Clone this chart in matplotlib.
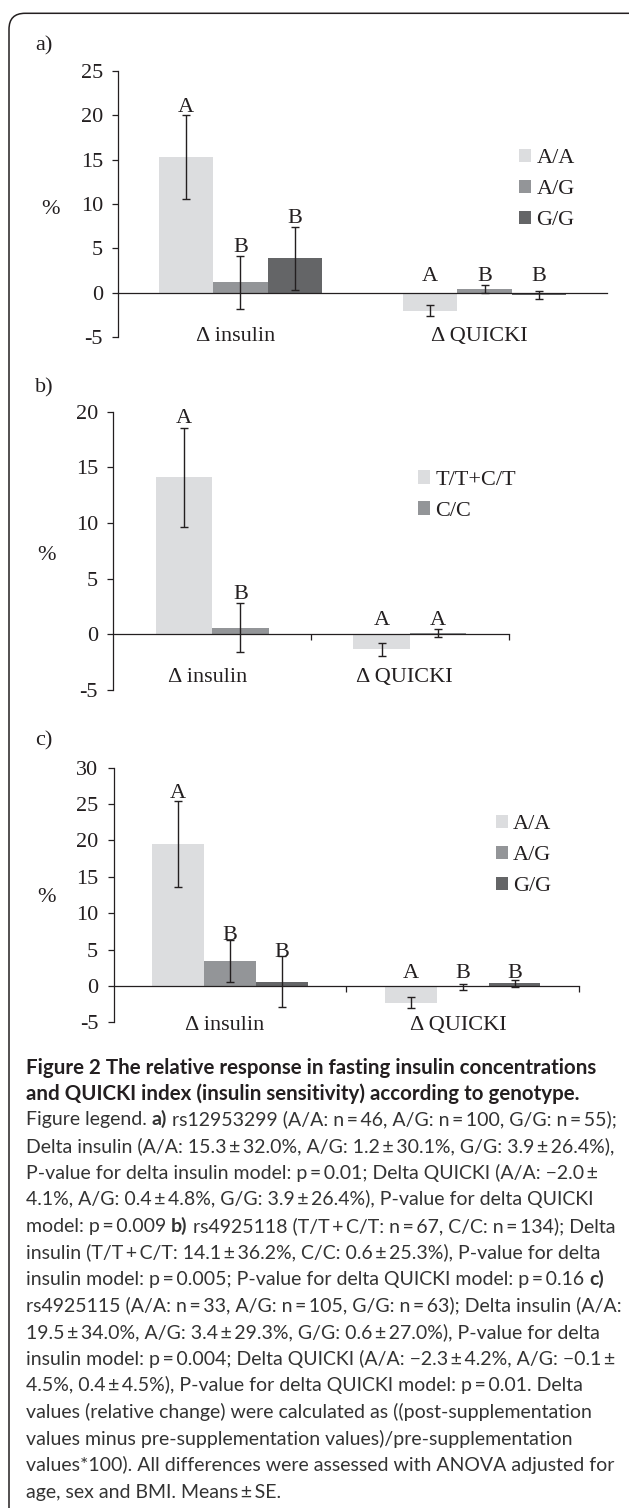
import numpy as np
import matplotlib
matplotlib.use("Agg")
import matplotlib.pyplot as plt
from matplotlib.patches import FancyBboxPatch
from matplotlib import transforms

W, H = 629, 1508

# ---- data ----
categories = ["\u0394 insulin", "\u0394 QUICKI"]

a_series = ["A/A", "A/G", "G/G"]
a_values = [[15.3, -2.0], [1.2, 0.4], [3.9, -0.25]]
a_errors = [[4.7, 0.6], [3.0, 0.43], [3.55, 0.47]]
a_letters = [["A", "A"], ["B", "B"], ["B", "B"]]
a_letter_y = [[20.35, 1.35], [4.6, 1.35], [7.9, 1.35]]

b_series = ["T/T+C/T", "C/C"]
b_values = [[14.1, -1.35], [0.6, 0.15]]
b_errors = [[4.47, 0.6], [2.2, 0.35]]
b_letters = [["A", "A"], ["B", "A"]]
b_letter_y = [[19.0, 0.84], [3.14, 0.84]]

c_series = ["A/A", "A/G", "G/G"]
c_values = [[19.5, -2.3], [3.4, -0.12], [0.6, 0.35]]
c_errors = [[5.9, 0.76], [2.85, 0.41], [3.5, 0.5]]
c_letters = [["A", "A"], ["B", "B"], ["B", "B"]]
c_letter_y = [[25.8, 1.05], [6.3, 1.05], [4.0, 1.05]]

bar_colors = ["#dcdddf", "#939598", "#646567"]
ink = "#231f20"
FS = 16
SERIF = ["Liberation Serif", "DejaVu Serif"]
SANS = ["Lato", "DejaVu Sans"]

plt.rcParams["font.family"] = SERIF
plt.rcParams["axes.unicode_minus"] = False

fig = plt.figure(figsize=(W / 100, H / 100), dpi=100)


def px_box(left, right, top, bottom):
    return [left / W, 1 - bottom / H, (right - left) / W, (bottom - top) / H]


def draw_panel(ax, series, values, errors, letters, letter_y, ylo, yhi,
               cat_y, boundary_ticks, legend_xy):
    n = len(series)
    width = 1 / (n + 1.5)
    x = np.arange(len(categories))
    for i, name in enumerate(series):
        pos = x + (i - (n - 1) / 2) * width
        ax.bar(pos, values[i], width, color=bar_colors[i], label=name,
               linewidth=0, zorder=2)
        ax.errorbar(pos, values[i], yerr=errors[i], fmt="none", ecolor=ink,
                    elinewidth=1.0, capsize=2.9, capthick=1.0, zorder=3)
        for xp, lt, ly in zip(pos, letters[i], letter_y[i]):
            ax.text(xp, ly, lt, ha="center", va="baseline", fontsize=FS,
                    color=ink, zorder=4)

    ax.set_xlim(-0.5, 1.5)
    ax.set_ylim(ylo, yhi)
    ax.set_yticks(range(ylo, yhi + 1, 5))
    ax.set_yticklabels([str(v) for v in range(ylo, yhi + 1, 5)])
    ax.tick_params(axis="y", direction="out", length=4, width=0.9,
                   color=ink, labelsize=FS, labelcolor=ink, pad=7)
    if boundary_ticks:
        ax.set_xticks([0.5, 1.5])
        ax.tick_params(axis="x", direction="out", length=4.3, width=0.9,
                       color=ink, labelbottom=False)
    else:
        ax.set_xticks([])
    for s in ("top", "right"):
        ax.spines[s].set_visible(False)
    ax.spines["bottom"].set_position(("data", 0))
    for s in ("left", "bottom"):
        ax.spines[s].set_color(ink)
        ax.spines[s].set_linewidth(0.9)
    ax.patch.set_alpha(0)

    shift = transforms.offset_copy(ax.transData, fig=fig, x=-5, y=0,
                                   units="dots")
    for xi, cat in zip(x, categories):
        ax.text(xi, cat_y, cat, transform=shift, ha="center", va="center",
                fontsize=FS, color=ink)

    lx, ly = legend_xy
    ax.legend(loc="center left", bbox_to_anchor=(lx / W, 1 - ly / H),
              bbox_transform=fig.transFigure, frameon=False, fontsize=FS,
              handlelength=0.56, handleheight=0.56, handletextpad=0.22,
              labelspacing=0.52, borderpad=0, borderaxespad=0,
              labelcolor=ink)


ax_a = fig.add_axes(px_box(118.3, 606.7, 70.7, 337.3))
draw_panel(ax_a, a_series, a_values, a_errors, a_letters, a_letter_y,
           -5, 25, -4.87, False, (519, 189.5))

ax_b = fig.add_axes(px_box(113.3, 508.6, 411.7, 690.0))
draw_panel(ax_b, b_series, b_values, b_errors, b_letters, b_letter_y,
           -5, 20, -3.86, True, (418, 495.5))

ax_c = fig.add_axes(px_box(113.5, 579.3, 767.6, 1022.3))
draw_panel(ax_c, c_series, c_values, c_errors, c_letters, c_letter_y,
           -5, 30, -5.5, True, (495.8, 855.5))

# panel tags and "%" labels
for tag, ty in (("a)", 46), ("b)", 388), ("c)", 741)):
    fig.text(35 / W, 1 - ty / H, tag, fontsize=FS, color=ink, va="center")
for py, px in ((209, 51), (555, 47), (898, 47)):
    fig.text(px / W, 1 - py / H, "%", fontsize=FS, color=ink,
             ha="center", va="center")

# rounded frame running off the bottom and right of the picture
frame = FancyBboxPatch((9, -40), 640, 1508 - 13.3 + 40,
                       boxstyle="round,pad=0,rounding_size=16",
                       transform=None, fill=False, edgecolor=ink,
                       linewidth=1.1)
fig.add_artist(frame)

# ---- caption ----
TS = "\u2009"


def thin(s):
    return (s.replace(" = ", TS + "=" + TS).replace(" \u00b1 ", TS + "\u00b1" + TS)
             .replace(" + ", TS + "+" + TS).replace(" \u00b1", TS + "\u00b1"))


title_lines = [
    "Figure 2 The relative response in fasting insulin concentrations",
    "and QUICKI index (insulin sensitivity) according to genotype.",
]
body_lines = [
    [("Figure legend.", 0), ("a)", 1), ("rs12953299 (A/A: n = 46, A/G: n = 100, G/G: n = 55);", 0)],
    [("Delta insulin (A/A: 15.3 \u00b1 32.0%, A/G: 1.2 \u00b1 30.1%, G/G: 3.9 \u00b1 26.4%),", 0)],
    [("P-value for delta insulin model: p = 0.01; Delta QUICKI (A/A: \u22122.0 \u00b1", 0)],
    [("4.1%, A/G: 0.4 \u00b1 4.8%, G/G: 3.9 \u00b1 26.4%), P-value for delta QUICKI", 0)],
    [("model: p = 0.009", 0), ("b)", 1), ("rs4925118 (T/T + C/T: n = 67, C/C: n = 134); Delta", 0)],
    [("insulin (T/T + C/T: 14.1 \u00b1 36.2%, C/C: 0.6 \u00b1 25.3%), P-value for delta", 0)],
    [("insulin model: p = 0.005; P-value for delta QUICKI model: p = 0.16", 0), ("c)", 1)],
    [("rs4925115 (A/A: n = 33, A/G: n = 105, G/G: n = 63); Delta insulin (A/A:", 0)],
    [("19.5 \u00b1 34.0%, A/G: 3.4 \u00b1 29.3%, G/G: 0.6 \u00b1 27.0%), P-value for delta", 0)],
    [("insulin model: p = 0.004; Delta QUICKI (A/A: \u22122.3 \u00b1 4.2%, A/G: \u22120.1 \u00b1", 0)],
    [("4.5%, 0.4 \u00b1 4.5%), P-value for delta QUICKI model: p = 0.01. Delta", 0)],
    [("values (relative change) were calculated as ((post-supplementation", 0)],
    [("values minus pre-supplementation values)/pre-supplementation", 0)],
    [("values*100). All differences were assessed with ANOVA adjusted for", 0)],
    [("age, sex and BMI. Means \u00b1 SE.", 0)],
]

CAP_FS = 14.8
BODY_FS = 14.0
renderer = fig.canvas.get_renderer()

for k, line in enumerate(title_lines):
    fig.text(26 / W, 1 - (1074 + 25.5 * k) / H, line, family=SANS,
             fontsize=CAP_FS, fontweight="bold", color=ink, va="baseline")


def text_w(s, **kw):
    t = fig.text(0, 0, s, **kw)
    w = t.get_window_extent(renderer).width
    t.remove()
    return w


body_kw = dict(family=SANS, fontsize=BODY_FS, color="#333333")
space_w = text_w("n n", **body_kw) - text_w("nn", **body_kw)

for k, parts in enumerate(body_lines):
    x = 26.0
    base = 1125.3 + 26.6 * k
    for s, bold in parts:
        t = fig.text(x / W, 1 - base / H, thin(s), va="baseline",
                     fontweight="bold" if bold else "normal", **body_kw)
        x += t.get_window_extent(renderer).width + space_w

fig.savefig("out.png", dpi=100, facecolor="white")
